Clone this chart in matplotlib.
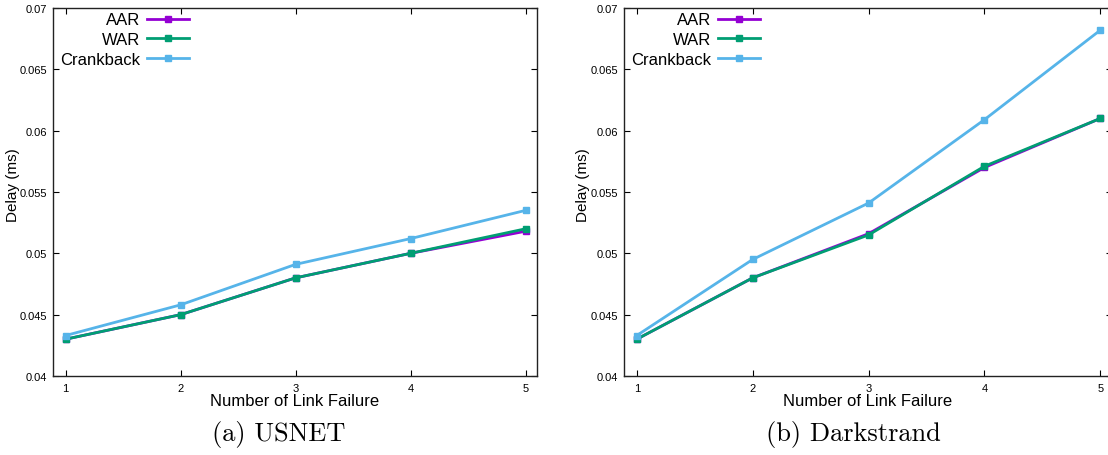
import matplotlib
matplotlib.use('Agg')
import matplotlib.pyplot as plt
from matplotlib.ticker import FixedLocator, FuncFormatter

# x values: number of link failures
failures = [1, 2, 3, 4, 5]

# (a) USNET
usnet_aar = [0.0430, 0.0450, 0.0480, 0.0500, 0.0518]
usnet_war = [0.0430, 0.0450, 0.0480, 0.0500, 0.0520]
usnet_crank = [0.0433, 0.0458, 0.0491, 0.0512, 0.0535]

# (b) Darkstrand
dark_aar = [0.0430, 0.0480, 0.0516, 0.0570, 0.0610]
dark_war = [0.0430, 0.0480, 0.0515, 0.0571, 0.0610]
dark_crank = [0.0433, 0.0495, 0.0541, 0.0609, 0.0682]

yticks = [0.04, 0.045, 0.05, 0.055, 0.06, 0.065, 0.07]
names = ['AAR', 'WAR', 'Crankback']
colors = ['#9400d3', '#009e73', '#56b4e9']
captions = ['(a) USNET', '(b) Darkstrand']

plt.rcParams['font.family'] = ['Liberation Sans', 'DejaVu Sans']

fig = plt.figure(figsize=(11.08, 4.56), dpi=100)
W, H = 1108.0, 456.0
ax1 = fig.add_axes([53 / W, 79 / H, 484 / W, 368 / H])
ax2 = fig.add_axes([624 / W, 79 / H, 488 / W, 368 / H])

def draw(ax, series):
    for vals, name, c in zip(series, names, colors):
        ax.plot(failures, vals, color=c, lw=2.0, marker='s', ms=4, label=name)
    ax.set_xlim(0.89, 5.1)
    ax.set_ylim(0.04, 0.07)
    ax.xaxis.set_major_locator(FixedLocator(failures))
    ax.yaxis.set_major_locator(FixedLocator(yticks))
    ax.yaxis.set_major_formatter(FuncFormatter(lambda v, p: '%g' % v))
    ax.tick_params(direction='in', length=4, width=0.8, labelsize=8,
                   top=True, right=True, pad=4)
    ax.tick_params(axis='x', pad=5)
    for s in ax.spines.values():
        s.set_linewidth(1.0)
        s.set_color('#222222')
    ax.set_xlabel('Number of Link Failure', fontsize=12)
    ax.xaxis.set_label_coords(0.5, -0.046)
    ax.set_ylabel('Delay (ms)', fontsize=11)
    ax.yaxis.set_label_coords(-0.069, 0.522)
    ax.legend(loc='upper left', bbox_to_anchor=(0.015, 0.988),
              markerfirst=False, frameon=False, fontsize=12,
              handlelength=2.5, handletextpad=0.4, labelspacing=0.28,
              borderpad=0, borderaxespad=0)

draw(ax1, [usnet_aar, usnet_war, usnet_crank])
draw(ax2, [dark_aar, dark_war, dark_crank])

fig.text(279 / W, 21 / H, captions[0], family='cmr10', fontsize=19,
         ha='center', va='center')
fig.text(853 / W, 21 / H, captions[1], family='cmr10', fontsize=19,
         ha='center', va='center')

fig.savefig('out.png', dpi=100)
